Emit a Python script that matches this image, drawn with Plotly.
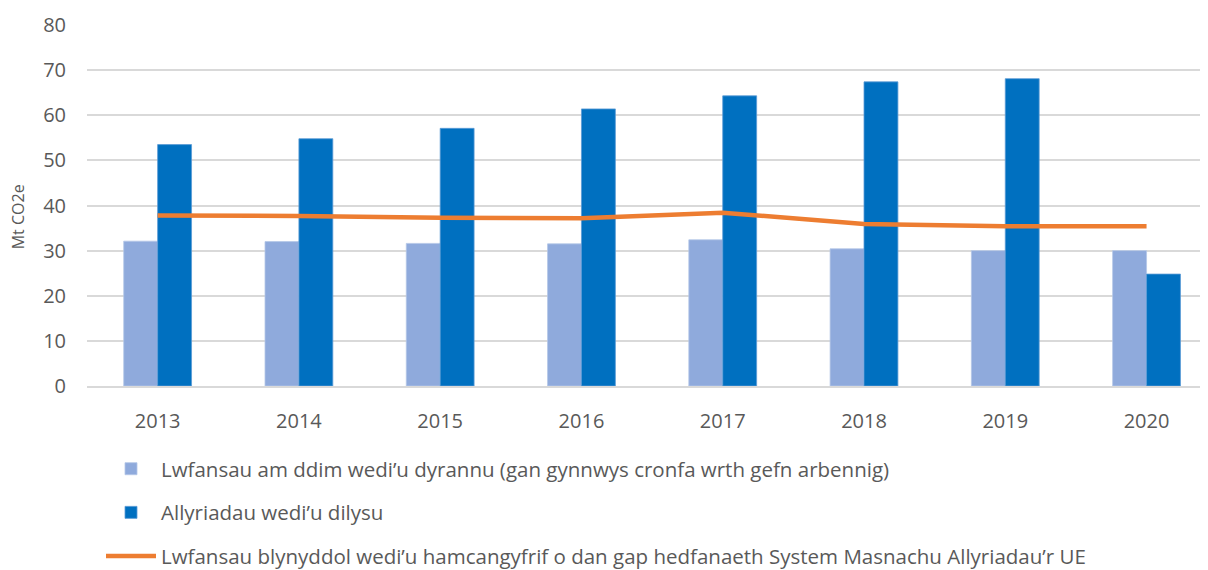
import plotly.graph_objects as go

years = ["2013", "2014", "2015", "2016", "2017", "2018", "2019", "2020"]
free_allowances = [32.1, 32.0, 31.6, 31.5, 32.4, 30.4, 30.0, 30.0]
verified_emissions = [53.5, 54.8, 57.1, 61.4, 64.3, 67.4, 68.1, 24.8]
annual_cap = [37.8, 37.7, 37.3, 37.2, 38.4, 35.9, 35.4, 35.4]

name_free = "Lwfansau am ddim wedi’u dyrannu (gan gynnwys cronfa wrth gefn arbennig)"
name_verified = "Allyriadau wedi’u dilysu"
name_cap = "Lwfansau blynyddol wedi’u hamcangyfrif o dan gap hedfanaeth System Masnachu Allyriadau’r UE"

font_family = "Open Sans, Liberation Sans, sans-serif"
text_color = "#595959"

fig = go.Figure()
fig.add_trace(go.Bar(
    x=years, y=free_allowances, name=name_free,
    marker=dict(color="#8FAADC", line=dict(color="#B4C7E7", width=0.8)),
    legendgroup="a",
))
fig.add_trace(go.Bar(
    x=years, y=verified_emissions, name=name_verified,
    marker=dict(color="#0070C0", line=dict(color="#5B9BD5", width=0.8)),
    legendgroup="b",
))
fig.add_trace(go.Scatter(
    x=years, y=annual_cap, name=name_cap, mode="lines",
    line=dict(color="#ED7D31", width=4.5),
    legendgroup="c",
))

fig.update_layout(
    width=1200, height=562,
    margin=dict(l=79, r=0, t=17, b=184, autoexpand=False),
    paper_bgcolor="white", plot_bgcolor="white",
    barmode="group", bargap=0.52, bargroupgap=0,
    font=dict(family=font_family, size=19, color=text_color),
    showlegend=True,
    legend=dict(
        xref="container", yref="container",
        x=0.0775, y=0.2155, xanchor="left", yanchor="top",
        orientation="v", tracegroupgap=14,
        font=dict(size=20.5, color=text_color),
        itemwidth=50,
        bgcolor="rgba(0,0,0,0)",
    ),
    xaxis=dict(
        type="category", range=[-0.5, 7.435],
        showgrid=False, showline=True, linecolor="#D9D9D9", linewidth=2,
        ticks="", ticklabelstandoff=16, tickangle=0,
        tickfont=dict(size=20, color=text_color),
    ),
    yaxis=dict(
        range=[0, 80], dtick=10,
        showgrid=True, gridcolor="#D9D9D9", gridwidth=1.5,
        zeroline=False, showline=False,
        ticks="", ticklabelstandoff=20,
        tickfont=dict(size=20, color=text_color),
    ),
    annotations=[dict(
        text="Mt CO2e", textangle=-90,
        xref="paper", yref="paper", x=-0.0616, y=0.47,
        xanchor="center", yanchor="middle", showarrow=False,
        font=dict(size=16, color=text_color),
    )],
)

fig.write_html("out.html")
